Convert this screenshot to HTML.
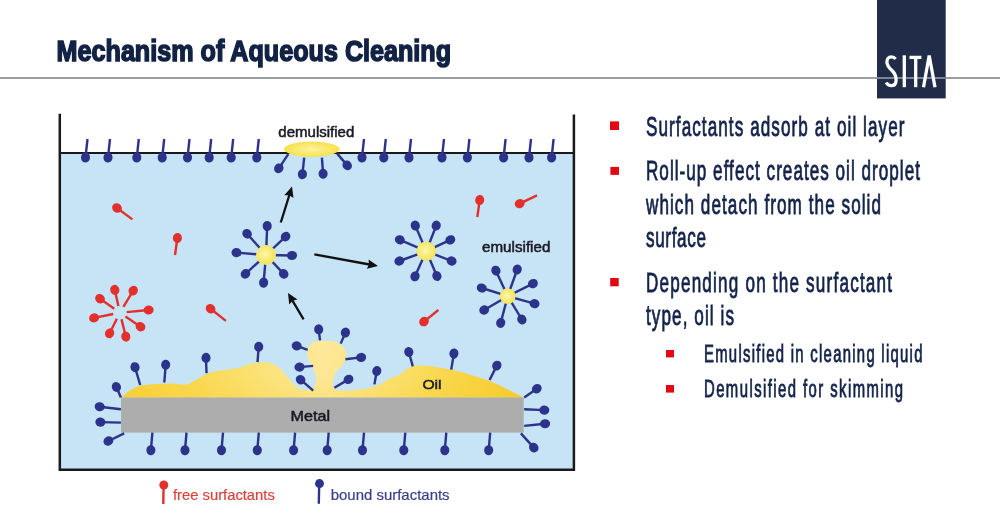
<!DOCTYPE html>
<html><head><meta charset="utf-8"><style>
html,body{margin:0;padding:0;background:#fff;width:1000px;height:509px;overflow:hidden}
svg{display:block;font-family:"Liberation Sans",sans-serif;will-change:transform}
</style></head><body>
<svg width="1000" height="509" viewBox="0 0 1000 509">
<rect x="0" y="0" width="1000" height="509" fill="#fff"/>
<line x1="0" y1="78" x2="1000" y2="78" stroke="#747c87" stroke-width="1.7"/>
<rect x="877" y="0" width="68.7" height="98.4" fill="#202c48"/>

<line x1="877" y1="78" x2="945.7" y2="78" stroke="#8794a8" stroke-width="1.5"/>
<g fill="none" stroke="#fff" stroke-width="3.3">
<path d="M895.6,59 C894.4,57.5 893,56.9 891.3,56.9 C888.6,56.9 886.9,59 886.9,62 C886.9,66 889.6,68.3 892.2,70.8 C895,73.5 896.1,76 896.1,80 C896.1,83.6 894.2,85.7 891.2,85.7 C889,85.7 887.3,84.5 886.2,82.5"/>
<line x1="904.3" y1="55.3" x2="904.3" y2="87.2"/>
<line x1="909.5" y1="57.4" x2="921.4" y2="57.4"/>
<line x1="915.7" y1="57.4" x2="915.7" y2="87.2"/>
<path d="M923.5,87.2 L929.2,55.5 L935,87.2" stroke-linejoin="miter"/>
</g>
<line x1="877" y1="78" x2="945.7" y2="78" stroke="rgb(190,198,212)" stroke-opacity="0.2" stroke-width="1.4"/>
<text x="56.6" y="60.5" font-size="30" font-weight="bold" fill="#112244" stroke="#112244" stroke-width="1.6" textLength="394.5" lengthAdjust="spacingAndGlyphs">Mechanism of Aqueous Cleaning</text>
<g fill="#13234a" stroke="#13234a" stroke-width="0.85" font-size="27.6">
<text transform="translate(646.0,136.0) scale(0.62,1)" x="0" y="0" textLength="416.9" lengthAdjust="spacing">Surfactants adsorb at oil layer</text>
<text transform="translate(646.0,180.3) scale(0.62,1)" x="0" y="0" textLength="441.9" lengthAdjust="spacing">Roll-up effect creates oil droplet</text>
<text transform="translate(646.0,213.8) scale(0.62,1)" x="0" y="0" textLength="379.0" lengthAdjust="spacing">which detach from the solid</text>
<text transform="translate(646.0,246.6) scale(0.62,1)" x="0" y="0" textLength="96.8" lengthAdjust="spacing">surface</text>
<text transform="translate(646.0,292.4) scale(0.62,1)" x="0" y="0" textLength="396.8" lengthAdjust="spacing">Depending on the surfactant</text>
<text transform="translate(646.0,324.7) scale(0.62,1)" x="0" y="0" textLength="141.9" lengthAdjust="spacing">type, oil is</text>
</g>
<g fill="#13234a" stroke="#13234a" stroke-width="0.85" font-size="24">
<text transform="translate(704.0,362.0) scale(0.62,1)" x="0" y="0" textLength="352.4" lengthAdjust="spacing">Emulsified in cleaning liquid</text>
<text transform="translate(704.0,397.0) scale(0.62,1)" x="0" y="0" textLength="321.0" lengthAdjust="spacing">Demulsified for skimming</text>
</g>
<g fill="#e30613">
<rect x="610" y="121.4" width="9" height="8.6"/>
<rect x="610.4" y="166.9" width="8.6" height="8"/>
<rect x="610.2" y="278" width="8.5" height="8.3"/>
<rect x="666" y="350" width="8" height="7.4"/>
<rect x="666" y="385" width="8" height="7.6"/>
</g>

<defs>
 <radialGradient id="core" cx="0.45" cy="0.45" r="0.6"><stop offset="0" stop-color="#fcf5b5"/><stop offset="0.4" stop-color="#f8ee82"/><stop offset="1" stop-color="#f0e155"/></radialGradient>
 <radialGradient id="demul" cx="0.5" cy="0.5" r="0.5"><stop offset="0" stop-color="#fdf3a0"/><stop offset="1" stop-color="#f7e14a"/></radialGradient>
 <linearGradient id="oilg" gradientUnits="userSpaceOnUse" x1="121" y1="0" x2="524" y2="0">
   <stop offset="0" stop-color="#f8d13a"/><stop offset="0.2" stop-color="#f9da58"/><stop offset="0.36" stop-color="#fbe47e"/><stop offset="0.5" stop-color="#fde99c"/>
   <stop offset="0.66" stop-color="#fbe275"/><stop offset="0.8" stop-color="#f9d850"/><stop offset="1" stop-color="#f7cd2c"/></linearGradient>
 <linearGradient id="oilv" gradientUnits="userSpaceOnUse" x1="0" y1="340" x2="0" y2="398">
   <stop offset="0" stop-color="#f6c820" stop-opacity="0"/><stop offset="0.6" stop-color="#f6c820" stop-opacity="0.05"/><stop offset="1" stop-color="#f6c820" stop-opacity="0.2"/></linearGradient>
</defs>
<rect x="60.5" y="153" width="513" height="316" fill="#c7e3f6"/>
<path d="M59.8,113.7 V469.8 H573.9 V114.6" fill="none" stroke="#1a1a1a" stroke-width="2.5"/>
<line x1="60" y1="153" x2="574" y2="153" stroke="#1a1a1a" stroke-width="2"/>
<path d="M121,397.8 C123,396.5 127,392 132,389.3 C136,387 139,386 141,385.6 C150,384 160,383.6 171,383.4 C178,383.4 183,385 186.4,384.6 C190,383.5 192,382 195,380.5 C199,378 203,375.5 206.8,374 C212,372 216,371.2 220.4,370.6 C228,369.5 232,369 237.4,368 C243,367 247,364.8 251,363.8 C256,362.6 260,362 264.7,362.1 C270,362.6 274,364 278,367 C282,370 285,374 290,380 C294,385 298,389 303,390 C307,390.6 311,390 313.5,388 C316,385 316.5,380 315.5,374 C314,369 309,363 307.5,356 C306.5,350 309,344 314,342 C319,340 327,340 333,341.2 C339,342.5 345,347 346.3,353 C347.5,360 342,366 337.5,370.5 C333.5,375 332.5,381 332.5,385 C333,388 335,390 340,390.5 C348,391 356,390 364.2,389.1 C370,388 375,386.5 380,384.4 C384,382.5 386,380 389.6,378.4 C393,377 396,376.5 399.2,375.2 C402,373.5 404,370.5 407.2,368.8 C411,366.5 414,365.6 418.4,365.6 C424,365.6 428,365.8 432.8,366.4 C440,367.3 445,368.5 450.4,369.6 C457,371 463,372.6 469.6,374.4 C476,376.3 482,378.3 488.8,380.8 C495,383.2 502,386.5 508,389.6 C514,392.6 519,395 523.7,397.8 Z" fill="url(#oilg)"/><path d="M121,397.8 C123,396.5 127,392 132,389.3 C136,387 139,386 141,385.6 C150,384 160,383.6 171,383.4 C178,383.4 183,385 186.4,384.6 C190,383.5 192,382 195,380.5 C199,378 203,375.5 206.8,374 C212,372 216,371.2 220.4,370.6 C228,369.5 232,369 237.4,368 C243,367 247,364.8 251,363.8 C256,362.6 260,362 264.7,362.1 C270,362.6 274,364 278,367 C282,370 285,374 290,380 C294,385 298,389 303,390 C307,390.6 311,390 313.5,388 C316,385 316.5,380 315.5,374 C314,369 309,363 307.5,356 C306.5,350 309,344 314,342 C319,340 327,340 333,341.2 C339,342.5 345,347 346.3,353 C347.5,360 342,366 337.5,370.5 C333.5,375 332.5,381 332.5,385 C333,388 335,390 340,390.5 C348,391 356,390 364.2,389.1 C370,388 375,386.5 380,384.4 C384,382.5 386,380 389.6,378.4 C393,377 396,376.5 399.2,375.2 C402,373.5 404,370.5 407.2,368.8 C411,366.5 414,365.6 418.4,365.6 C424,365.6 428,365.8 432.8,366.4 C440,367.3 445,368.5 450.4,369.6 C457,371 463,372.6 469.6,374.4 C476,376.3 482,378.3 488.8,380.8 C495,383.2 502,386.5 508,389.6 C514,392.6 519,395 523.7,397.8 Z" fill="url(#oilv)"/>
<rect x="121" y="397.5" width="402.7" height="35.1" fill="#adadad"/>
<line x1="116.4" y1="387.0" x2="120.9" y2="397.5" stroke="#2b348a" stroke-width="2.4" stroke-linecap="butt"/><ellipse cx="116.4" cy="387.0" rx="5.05" ry="4.55" transform="rotate(66.8 116.4 387.0)" fill="#2b348a"/><line x1="99.7" y1="406.7" x2="120.9" y2="409.2" stroke="#2b348a" stroke-width="2.4" stroke-linecap="butt"/><ellipse cx="99.7" cy="406.7" rx="5.05" ry="4.55" transform="rotate(6.7 99.7 406.7)" fill="#2b348a"/><line x1="100.4" y1="422.1" x2="120.9" y2="422.6" stroke="#2b348a" stroke-width="2.4" stroke-linecap="butt"/><ellipse cx="100.4" cy="422.1" rx="5.05" ry="4.55" transform="rotate(1.4 100.4 422.1)" fill="#2b348a"/><line x1="108.4" y1="441.0" x2="124.2" y2="433.4" stroke="#2b348a" stroke-width="2.4" stroke-linecap="butt"/><ellipse cx="108.4" cy="441.0" rx="5.05" ry="4.55" transform="rotate(-25.7 108.4 441.0)" fill="#2b348a"/><line x1="135.0" y1="367.2" x2="140.2" y2="385.0" stroke="#2b348a" stroke-width="2.4" stroke-linecap="butt"/><ellipse cx="135.0" cy="367.2" rx="5.05" ry="4.55" transform="rotate(73.7 135.0 367.2)" fill="#2b348a"/><line x1="165.7" y1="364.7" x2="164.3" y2="382.5" stroke="#2b348a" stroke-width="2.4" stroke-linecap="butt"/><ellipse cx="165.7" cy="364.7" rx="5.05" ry="4.55" transform="rotate(94.5 165.7 364.7)" fill="#2b348a"/><line x1="206.0" y1="357.9" x2="206.5" y2="373.2" stroke="#2b348a" stroke-width="2.4" stroke-linecap="butt"/><ellipse cx="206.0" cy="357.9" rx="5.05" ry="4.55" transform="rotate(88.1 206.0 357.9)" fill="#2b348a"/><line x1="258.7" y1="346.8" x2="257.5" y2="362.1" stroke="#2b348a" stroke-width="2.4" stroke-linecap="butt"/><ellipse cx="258.7" cy="346.8" rx="5.05" ry="4.55" transform="rotate(94.5 258.7 346.8)" fill="#2b348a"/><line x1="318.7" y1="329.4" x2="320.0" y2="340.4" stroke="#2b348a" stroke-width="2.4" stroke-linecap="butt"/><ellipse cx="318.7" cy="329.4" rx="5.05" ry="4.55" transform="rotate(83.3 318.7 329.4)" fill="#2b348a"/><line x1="345.4" y1="332.6" x2="340.7" y2="343.6" stroke="#2b348a" stroke-width="2.4" stroke-linecap="butt"/><ellipse cx="345.4" cy="332.6" rx="5.05" ry="4.55" transform="rotate(113.1 345.4 332.6)" fill="#2b348a"/><line x1="296.7" y1="345.9" x2="307.7" y2="349.8" stroke="#2b348a" stroke-width="2.4" stroke-linecap="butt"/><ellipse cx="296.7" cy="345.9" rx="5.05" ry="4.55" transform="rotate(19.5 296.7 345.9)" fill="#2b348a"/><line x1="361.1" y1="357.4" x2="345.4" y2="359.3" stroke="#2b348a" stroke-width="2.4" stroke-linecap="butt"/><ellipse cx="361.1" cy="357.4" rx="5.05" ry="4.55" transform="rotate(173.1 361.1 357.4)" fill="#2b348a"/><line x1="299.5" y1="367.1" x2="313.2" y2="365.9" stroke="#2b348a" stroke-width="2.4" stroke-linecap="butt"/><ellipse cx="299.5" cy="367.1" rx="5.05" ry="4.55" transform="rotate(-5.0 299.5 367.1)" fill="#2b348a"/><line x1="300.6" y1="379.7" x2="313.2" y2="390.7" stroke="#2b348a" stroke-width="2.4" stroke-linecap="butt"/><ellipse cx="300.6" cy="379.7" rx="5.05" ry="4.55" transform="rotate(41.1 300.6 379.7)" fill="#2b348a"/><line x1="348.5" y1="379.4" x2="334.4" y2="387.8" stroke="#2b348a" stroke-width="2.4" stroke-linecap="butt"/><ellipse cx="348.5" cy="379.4" rx="5.05" ry="4.55" transform="rotate(149.2 348.5 379.4)" fill="#2b348a"/><line x1="376.8" y1="371.0" x2="374.4" y2="384.4" stroke="#2b348a" stroke-width="2.4" stroke-linecap="butt"/><ellipse cx="376.8" cy="371.0" rx="5.05" ry="4.55" transform="rotate(100.2 376.8 371.0)" fill="#2b348a"/><line x1="408.8" y1="352.0" x2="412.8" y2="366.4" stroke="#2b348a" stroke-width="2.4" stroke-linecap="butt"/><ellipse cx="408.8" cy="352.0" rx="5.05" ry="4.55" transform="rotate(74.5 408.8 352.0)" fill="#2b348a"/><line x1="453.9" y1="353.6" x2="451.2" y2="369.6" stroke="#2b348a" stroke-width="2.4" stroke-linecap="butt"/><ellipse cx="453.9" cy="353.6" rx="5.05" ry="4.55" transform="rotate(99.6 453.9 353.6)" fill="#2b348a"/><line x1="496.8" y1="365.6" x2="489.6" y2="380.0" stroke="#2b348a" stroke-width="2.4" stroke-linecap="butt"/><ellipse cx="496.8" cy="365.6" rx="5.05" ry="4.55" transform="rotate(116.6 496.8 365.6)" fill="#2b348a"/><line x1="536.8" y1="388.7" x2="524.2" y2="397.5" stroke="#2b348a" stroke-width="2.4" stroke-linecap="butt"/><ellipse cx="536.8" cy="388.7" rx="5.05" ry="4.55" transform="rotate(145.1 536.8 388.7)" fill="#2b348a"/><line x1="544.3" y1="410.1" x2="524.2" y2="409.2" stroke="#2b348a" stroke-width="2.4" stroke-linecap="butt"/><ellipse cx="544.3" cy="410.1" rx="5.05" ry="4.55" transform="rotate(-177.4 544.3 410.1)" fill="#2b348a"/><line x1="545.1" y1="423.7" x2="524.2" y2="425.9" stroke="#2b348a" stroke-width="2.4" stroke-linecap="butt"/><ellipse cx="545.1" cy="423.7" rx="5.05" ry="4.55" transform="rotate(174.0 545.1 423.7)" fill="#2b348a"/><line x1="533.8" y1="447.6" x2="520.9" y2="433.4" stroke="#2b348a" stroke-width="2.4" stroke-linecap="butt"/><ellipse cx="533.8" cy="447.6" rx="5.05" ry="4.55" transform="rotate(-132.3 533.8 447.6)" fill="#2b348a"/><line x1="150.9" y1="450.2" x2="152.4" y2="432.6" stroke="#2b348a" stroke-width="2.4" stroke-linecap="butt"/><ellipse cx="150.9" cy="450.2" rx="5.05" ry="4.55" transform="rotate(-85.1 150.9 450.2)" fill="#2b348a"/><line x1="185.0" y1="450.2" x2="186.5" y2="432.6" stroke="#2b348a" stroke-width="2.4" stroke-linecap="butt"/><ellipse cx="185.0" cy="450.2" rx="5.05" ry="4.55" transform="rotate(-85.1 185.0 450.2)" fill="#2b348a"/><line x1="221.5" y1="450.2" x2="223.0" y2="432.6" stroke="#2b348a" stroke-width="2.4" stroke-linecap="butt"/><ellipse cx="221.5" cy="450.2" rx="5.05" ry="4.55" transform="rotate(-85.1 221.5 450.2)" fill="#2b348a"/><line x1="257.3" y1="450.2" x2="258.8" y2="432.6" stroke="#2b348a" stroke-width="2.4" stroke-linecap="butt"/><ellipse cx="257.3" cy="450.2" rx="5.05" ry="4.55" transform="rotate(-85.1 257.3 450.2)" fill="#2b348a"/><line x1="293.6" y1="450.2" x2="295.1" y2="432.6" stroke="#2b348a" stroke-width="2.4" stroke-linecap="butt"/><ellipse cx="293.6" cy="450.2" rx="5.05" ry="4.55" transform="rotate(-85.1 293.6 450.2)" fill="#2b348a"/><line x1="327.2" y1="450.2" x2="328.7" y2="432.6" stroke="#2b348a" stroke-width="2.4" stroke-linecap="butt"/><ellipse cx="327.2" cy="450.2" rx="5.05" ry="4.55" transform="rotate(-85.1 327.2 450.2)" fill="#2b348a"/><line x1="362.5" y1="450.2" x2="364.0" y2="432.6" stroke="#2b348a" stroke-width="2.4" stroke-linecap="butt"/><ellipse cx="362.5" cy="450.2" rx="5.05" ry="4.55" transform="rotate(-85.1 362.5 450.2)" fill="#2b348a"/><line x1="403.8" y1="450.2" x2="405.3" y2="432.6" stroke="#2b348a" stroke-width="2.4" stroke-linecap="butt"/><ellipse cx="403.8" cy="450.2" rx="5.05" ry="4.55" transform="rotate(-85.1 403.8 450.2)" fill="#2b348a"/><line x1="444.8" y1="450.2" x2="446.3" y2="432.6" stroke="#2b348a" stroke-width="2.4" stroke-linecap="butt"/><ellipse cx="444.8" cy="450.2" rx="5.05" ry="4.55" transform="rotate(-85.1 444.8 450.2)" fill="#2b348a"/><line x1="488.7" y1="450.2" x2="490.2" y2="432.6" stroke="#2b348a" stroke-width="2.4" stroke-linecap="butt"/><ellipse cx="488.7" cy="450.2" rx="5.05" ry="4.55" transform="rotate(-85.1 488.7 450.2)" fill="#2b348a"/>
<ellipse cx="311.7" cy="149.2" rx="27.8" ry="7.6" fill="url(#demul)"/>
<line x1="85.5" y1="157.5" x2="87.5" y2="139.0" stroke="#2b348a" stroke-width="2.4" stroke-linecap="butt"/><ellipse cx="85.5" cy="157.5" rx="5.05" ry="4.55" transform="rotate(-83.8 85.5 157.5)" fill="#2b348a"/><line x1="108.0" y1="157.5" x2="110.0" y2="139.0" stroke="#2b348a" stroke-width="2.4" stroke-linecap="butt"/><ellipse cx="108.0" cy="157.5" rx="5.05" ry="4.55" transform="rotate(-83.8 108.0 157.5)" fill="#2b348a"/><line x1="136.8" y1="157.5" x2="138.8" y2="139.0" stroke="#2b348a" stroke-width="2.4" stroke-linecap="butt"/><ellipse cx="136.8" cy="157.5" rx="5.05" ry="4.55" transform="rotate(-83.8 136.8 157.5)" fill="#2b348a"/><line x1="162.2" y1="157.5" x2="164.2" y2="139.0" stroke="#2b348a" stroke-width="2.4" stroke-linecap="butt"/><ellipse cx="162.2" cy="157.5" rx="5.05" ry="4.55" transform="rotate(-83.8 162.2 157.5)" fill="#2b348a"/><line x1="187.5" y1="157.5" x2="189.5" y2="139.0" stroke="#2b348a" stroke-width="2.4" stroke-linecap="butt"/><ellipse cx="187.5" cy="157.5" rx="5.05" ry="4.55" transform="rotate(-83.8 187.5 157.5)" fill="#2b348a"/><line x1="209.2" y1="157.5" x2="211.2" y2="139.0" stroke="#2b348a" stroke-width="2.4" stroke-linecap="butt"/><ellipse cx="209.2" cy="157.5" rx="5.05" ry="4.55" transform="rotate(-83.8 209.2 157.5)" fill="#2b348a"/><line x1="231.2" y1="157.5" x2="233.2" y2="139.0" stroke="#2b348a" stroke-width="2.4" stroke-linecap="butt"/><ellipse cx="231.2" cy="157.5" rx="5.05" ry="4.55" transform="rotate(-83.8 231.2 157.5)" fill="#2b348a"/><line x1="256.8" y1="157.5" x2="258.8" y2="139.0" stroke="#2b348a" stroke-width="2.4" stroke-linecap="butt"/><ellipse cx="256.8" cy="157.5" rx="5.05" ry="4.55" transform="rotate(-83.8 256.8 157.5)" fill="#2b348a"/><line x1="362.0" y1="157.5" x2="364.0" y2="139.0" stroke="#2b348a" stroke-width="2.4" stroke-linecap="butt"/><ellipse cx="362.0" cy="157.5" rx="5.05" ry="4.55" transform="rotate(-83.8 362.0 157.5)" fill="#2b348a"/><line x1="383.8" y1="157.5" x2="385.8" y2="139.0" stroke="#2b348a" stroke-width="2.4" stroke-linecap="butt"/><ellipse cx="383.8" cy="157.5" rx="5.05" ry="4.55" transform="rotate(-83.8 383.8 157.5)" fill="#2b348a"/><line x1="409.0" y1="157.5" x2="411.0" y2="139.0" stroke="#2b348a" stroke-width="2.4" stroke-linecap="butt"/><ellipse cx="409.0" cy="157.5" rx="5.05" ry="4.55" transform="rotate(-83.8 409.0 157.5)" fill="#2b348a"/><line x1="442.0" y1="157.5" x2="444.0" y2="139.0" stroke="#2b348a" stroke-width="2.4" stroke-linecap="butt"/><ellipse cx="442.0" cy="157.5" rx="5.05" ry="4.55" transform="rotate(-83.8 442.0 157.5)" fill="#2b348a"/><line x1="467.4" y1="157.5" x2="469.4" y2="139.0" stroke="#2b348a" stroke-width="2.4" stroke-linecap="butt"/><ellipse cx="467.4" cy="157.5" rx="5.05" ry="4.55" transform="rotate(-83.8 467.4 157.5)" fill="#2b348a"/><line x1="503.6" y1="157.5" x2="505.6" y2="139.0" stroke="#2b348a" stroke-width="2.4" stroke-linecap="butt"/><ellipse cx="503.6" cy="157.5" rx="5.05" ry="4.55" transform="rotate(-83.8 503.6 157.5)" fill="#2b348a"/><line x1="529.0" y1="157.5" x2="531.0" y2="139.0" stroke="#2b348a" stroke-width="2.4" stroke-linecap="butt"/><ellipse cx="529.0" cy="157.5" rx="5.05" ry="4.55" transform="rotate(-83.8 529.0 157.5)" fill="#2b348a"/><line x1="551.6" y1="157.5" x2="553.6" y2="139.0" stroke="#2b348a" stroke-width="2.4" stroke-linecap="butt"/><ellipse cx="551.6" cy="157.5" rx="5.05" ry="4.55" transform="rotate(-83.8 551.6 157.5)" fill="#2b348a"/><line x1="278.8" y1="168.3" x2="288.3" y2="154.2" stroke="#2b348a" stroke-width="2.4" stroke-linecap="butt"/><ellipse cx="278.8" cy="168.3" rx="5.05" ry="4.55" transform="rotate(-56.0 278.8 168.3)" fill="#2b348a"/><line x1="302.4" y1="174.2" x2="304.2" y2="157.7" stroke="#2b348a" stroke-width="2.4" stroke-linecap="butt"/><ellipse cx="302.4" cy="174.2" rx="5.05" ry="4.55" transform="rotate(-83.8 302.4 174.2)" fill="#2b348a"/><line x1="323.1" y1="173.7" x2="321.9" y2="157.7" stroke="#2b348a" stroke-width="2.4" stroke-linecap="butt"/><ellipse cx="323.1" cy="173.7" rx="5.05" ry="4.55" transform="rotate(-94.3 323.1 173.7)" fill="#2b348a"/><line x1="347.2" y1="165.4" x2="337.2" y2="153.6" stroke="#2b348a" stroke-width="2.4" stroke-linecap="butt"/><ellipse cx="347.2" cy="165.4" rx="5.05" ry="4.55" transform="rotate(-130.3 347.2 165.4)" fill="#2b348a"/><line x1="117.0" y1="208.0" x2="132.4" y2="219.4" stroke="#e3302c" stroke-width="2.4" stroke-linecap="butt"/><ellipse cx="117.0" cy="208.0" rx="5.05" ry="4.55" transform="rotate(36.5 117.0 208.0)" fill="#e3302c"/><line x1="177.4" y1="238.0" x2="175.0" y2="255.0" stroke="#e3302c" stroke-width="2.4" stroke-linecap="butt"/><ellipse cx="177.4" cy="238.0" rx="5.05" ry="4.55" transform="rotate(98.0 177.4 238.0)" fill="#e3302c"/><line x1="479.7" y1="200.1" x2="477.3" y2="217.0" stroke="#e3302c" stroke-width="2.4" stroke-linecap="butt"/><ellipse cx="479.7" cy="200.1" rx="5.05" ry="4.55" transform="rotate(98.1 479.7 200.1)" fill="#e3302c"/><line x1="424.0" y1="321.6" x2="438.4" y2="310.0" stroke="#e3302c" stroke-width="2.4" stroke-linecap="butt"/><ellipse cx="424.0" cy="321.6" rx="5.05" ry="4.55" transform="rotate(-38.9 424.0 321.6)" fill="#e3302c"/><line x1="519.7" y1="203.6" x2="537.0" y2="195.4" stroke="#e3302c" stroke-width="2.4" stroke-linecap="butt"/><ellipse cx="519.7" cy="203.6" rx="5.05" ry="4.55" transform="rotate(-25.4 519.7 203.6)" fill="#e3302c"/><line x1="210.6" y1="308.7" x2="225.9" y2="320.9" stroke="#e3302c" stroke-width="2.4" stroke-linecap="butt"/><ellipse cx="210.6" cy="308.7" rx="5.05" ry="4.55" transform="rotate(38.6 210.6 308.7)" fill="#e3302c"/><line x1="114.8" y1="289.9" x2="118.4" y2="306.1" stroke="#e3302c" stroke-width="2.4" stroke-linecap="butt"/><ellipse cx="114.8" cy="289.9" rx="5.05" ry="4.55" transform="rotate(77.4 114.8 289.9)" fill="#e3302c"/><line x1="133.2" y1="290.6" x2="123.4" y2="306.9" stroke="#e3302c" stroke-width="2.4" stroke-linecap="butt"/><ellipse cx="133.2" cy="290.6" rx="5.05" ry="4.55" transform="rotate(121.0 133.2 290.6)" fill="#e3302c"/><line x1="100.0" y1="298.7" x2="114.3" y2="308.8" stroke="#e3302c" stroke-width="2.4" stroke-linecap="butt"/><ellipse cx="100.0" cy="298.7" rx="5.05" ry="4.55" transform="rotate(35.1 100.0 298.7)" fill="#e3302c"/><line x1="148.6" y1="310.0" x2="126.7" y2="312.1" stroke="#e3302c" stroke-width="2.4" stroke-linecap="butt"/><ellipse cx="148.6" cy="310.0" rx="5.05" ry="4.55" transform="rotate(174.6 148.6 310.0)" fill="#e3302c"/><line x1="94.1" y1="317.9" x2="113.2" y2="314.0" stroke="#e3302c" stroke-width="2.4" stroke-linecap="butt"/><ellipse cx="94.1" cy="317.9" rx="5.05" ry="4.55" transform="rotate(-11.4 94.1 317.9)" fill="#e3302c"/><line x1="140.5" y1="326.7" x2="125.5" y2="316.5" stroke="#e3302c" stroke-width="2.4" stroke-linecap="butt"/><ellipse cx="140.5" cy="326.7" rx="5.05" ry="4.55" transform="rotate(-145.8 140.5 326.7)" fill="#e3302c"/><line x1="109.6" y1="333.3" x2="116.9" y2="318.8" stroke="#e3302c" stroke-width="2.4" stroke-linecap="butt"/><ellipse cx="109.6" cy="333.3" rx="5.05" ry="4.55" transform="rotate(-63.4 109.6 333.3)" fill="#e3302c"/><line x1="125.8" y1="336.6" x2="121.5" y2="319.3" stroke="#e3302c" stroke-width="2.4" stroke-linecap="butt"/><ellipse cx="125.8" cy="336.6" rx="5.05" ry="4.55" transform="rotate(-103.9 125.8 336.6)" fill="#e3302c"/>
<line x1="267.2" y1="226.0" x2="266.0" y2="255.0" stroke="#2b348a" stroke-width="2.4" stroke-linecap="butt"/><ellipse cx="267.2" cy="226.0" rx="5.05" ry="4.55" transform="rotate(92.4 267.2 226.0)" fill="#2b348a"/><line x1="285.6" y1="236.6" x2="266.0" y2="255.0" stroke="#2b348a" stroke-width="2.4" stroke-linecap="butt"/><ellipse cx="285.6" cy="236.6" rx="5.05" ry="4.55" transform="rotate(136.8 285.6 236.6)" fill="#2b348a"/><line x1="292.0" y1="255.5" x2="266.0" y2="255.0" stroke="#2b348a" stroke-width="2.4" stroke-linecap="butt"/><ellipse cx="292.0" cy="255.5" rx="5.05" ry="4.55" transform="rotate(-178.9 292.0 255.5)" fill="#2b348a"/><line x1="283.7" y1="273.9" x2="266.0" y2="255.0" stroke="#2b348a" stroke-width="2.4" stroke-linecap="butt"/><ellipse cx="283.7" cy="273.9" rx="5.05" ry="4.55" transform="rotate(-133.1 283.7 273.9)" fill="#2b348a"/><line x1="263.6" y1="282.6" x2="266.0" y2="255.0" stroke="#2b348a" stroke-width="2.4" stroke-linecap="butt"/><ellipse cx="263.6" cy="282.6" rx="5.05" ry="4.55" transform="rotate(-85.0 263.6 282.6)" fill="#2b348a"/><line x1="245.5" y1="273.9" x2="266.0" y2="255.0" stroke="#2b348a" stroke-width="2.4" stroke-linecap="butt"/><ellipse cx="245.5" cy="273.9" rx="5.05" ry="4.55" transform="rotate(-42.7 245.5 273.9)" fill="#2b348a"/><line x1="236.5" y1="252.6" x2="266.0" y2="255.0" stroke="#2b348a" stroke-width="2.4" stroke-linecap="butt"/><ellipse cx="236.5" cy="252.6" rx="5.05" ry="4.55" transform="rotate(4.7 236.5 252.6)" fill="#2b348a"/><line x1="247.1" y1="233.8" x2="266.0" y2="255.0" stroke="#2b348a" stroke-width="2.4" stroke-linecap="butt"/><ellipse cx="247.1" cy="233.8" rx="5.05" ry="4.55" transform="rotate(48.3 247.1 233.8)" fill="#2b348a"/><circle cx="266" cy="255" r="10" fill="url(#core)"/><line x1="415.3" y1="225.6" x2="426.3" y2="251.2" stroke="#2b348a" stroke-width="2.4" stroke-linecap="butt"/><ellipse cx="415.3" cy="225.6" rx="5.05" ry="4.55" transform="rotate(66.7 415.3 225.6)" fill="#2b348a"/><line x1="436.2" y1="225.6" x2="426.3" y2="251.2" stroke="#2b348a" stroke-width="2.4" stroke-linecap="butt"/><ellipse cx="436.2" cy="225.6" rx="5.05" ry="4.55" transform="rotate(111.1 436.2 225.6)" fill="#2b348a"/><line x1="450.3" y1="239.8" x2="426.3" y2="251.2" stroke="#2b348a" stroke-width="2.4" stroke-linecap="butt"/><ellipse cx="450.3" cy="239.8" rx="5.05" ry="4.55" transform="rotate(154.6 450.3 239.8)" fill="#2b348a"/><line x1="451.6" y1="261.0" x2="426.3" y2="251.2" stroke="#2b348a" stroke-width="2.4" stroke-linecap="butt"/><ellipse cx="451.6" cy="261.0" rx="5.05" ry="4.55" transform="rotate(-158.8 451.6 261.0)" fill="#2b348a"/><line x1="436.9" y1="276.0" x2="426.3" y2="251.2" stroke="#2b348a" stroke-width="2.4" stroke-linecap="butt"/><ellipse cx="436.9" cy="276.0" rx="5.05" ry="4.55" transform="rotate(-113.1 436.9 276.0)" fill="#2b348a"/><line x1="415.0" y1="276.3" x2="426.3" y2="251.2" stroke="#2b348a" stroke-width="2.4" stroke-linecap="butt"/><ellipse cx="415.0" cy="276.3" rx="5.05" ry="4.55" transform="rotate(-65.8 415.0 276.3)" fill="#2b348a"/><line x1="399.4" y1="261.0" x2="426.3" y2="251.2" stroke="#2b348a" stroke-width="2.4" stroke-linecap="butt"/><ellipse cx="399.4" cy="261.0" rx="5.05" ry="4.55" transform="rotate(-20.0 399.4 261.0)" fill="#2b348a"/><line x1="399.8" y1="239.8" x2="426.3" y2="251.2" stroke="#2b348a" stroke-width="2.4" stroke-linecap="butt"/><ellipse cx="399.8" cy="239.8" rx="5.05" ry="4.55" transform="rotate(23.3 399.8 239.8)" fill="#2b348a"/><circle cx="426.3" cy="251.2" r="9.7" fill="url(#core)"/><line x1="495.9" y1="270.7" x2="507.7" y2="296.2" stroke="#2b348a" stroke-width="2.4" stroke-linecap="butt"/><ellipse cx="495.9" cy="270.7" rx="5.05" ry="4.55" transform="rotate(65.2 495.9 270.7)" fill="#2b348a"/><line x1="517.2" y1="269.5" x2="507.7" y2="296.2" stroke="#2b348a" stroke-width="2.4" stroke-linecap="butt"/><ellipse cx="517.2" cy="269.5" rx="5.05" ry="4.55" transform="rotate(109.6 517.2 269.5)" fill="#2b348a"/><line x1="532.9" y1="283.6" x2="507.7" y2="296.2" stroke="#2b348a" stroke-width="2.4" stroke-linecap="butt"/><ellipse cx="532.9" cy="283.6" rx="5.05" ry="4.55" transform="rotate(153.4 532.9 283.6)" fill="#2b348a"/><line x1="534.5" y1="303.7" x2="507.7" y2="296.2" stroke="#2b348a" stroke-width="2.4" stroke-linecap="butt"/><ellipse cx="534.5" cy="303.7" rx="5.05" ry="4.55" transform="rotate(-164.4 534.5 303.7)" fill="#2b348a"/><line x1="521.9" y1="319.5" x2="507.7" y2="296.2" stroke="#2b348a" stroke-width="2.4" stroke-linecap="butt"/><ellipse cx="521.9" cy="319.5" rx="5.05" ry="4.55" transform="rotate(-121.4 521.9 319.5)" fill="#2b348a"/><line x1="500.7" y1="322.9" x2="507.7" y2="296.2" stroke="#2b348a" stroke-width="2.4" stroke-linecap="butt"/><ellipse cx="500.7" cy="322.9" rx="5.05" ry="4.55" transform="rotate(-75.3 500.7 322.9)" fill="#2b348a"/><line x1="484.2" y1="310.0" x2="507.7" y2="296.2" stroke="#2b348a" stroke-width="2.4" stroke-linecap="butt"/><ellipse cx="484.2" cy="310.0" rx="5.05" ry="4.55" transform="rotate(-30.4 484.2 310.0)" fill="#2b348a"/><line x1="481.8" y1="288.0" x2="507.7" y2="296.2" stroke="#2b348a" stroke-width="2.4" stroke-linecap="butt"/><ellipse cx="481.8" cy="288.0" rx="5.05" ry="4.55" transform="rotate(17.6 481.8 288.0)" fill="#2b348a"/><circle cx="507.7" cy="296.2" r="7.9" fill="url(#core)"/>
<line x1="280.8" y1="222.5" x2="289.5" y2="194.7" stroke="#111" stroke-width="2.3"/><path d="M292.0,186.6 L293.5,198.1 L289.3,195.2 L284.3,195.2 Z" fill="#111"/><line x1="314.4" y1="254.4" x2="369.6" y2="264.5" stroke="#111" stroke-width="2.3"/><path d="M378.0,266.0 L366.8,268.8 L369.1,264.4 L368.5,259.4 Z" fill="#111"/><line x1="303.6" y1="319.4" x2="292.3" y2="300.3" stroke="#111" stroke-width="2.3"/><path d="M288.0,293.0 L297.5,299.6 L292.6,300.7 L289.2,304.5 Z" fill="#111"/>
<text x="278.3" y="136.5" font-size="14.3" fill="#1a1a24" stroke="#1a1a24" stroke-width="0.5" textLength="76" lengthAdjust="spacingAndGlyphs">demulsified</text>
<text x="482" y="251.5" font-size="14.3" fill="#1a1a24" stroke="#1a1a24" stroke-width="0.5" textLength="68.4" lengthAdjust="spacingAndGlyphs">emulsified</text>
<text x="290.6" y="421.3" font-size="14.3" fill="#1a1a24" stroke="#1a1a24" stroke-width="0.5" textLength="39.4" lengthAdjust="spacingAndGlyphs">Metal</text>
<text x="422.4" y="388.8" font-size="13.6" fill="#1a1a24" stroke="#1a1a24" stroke-width="0.5" textLength="19.2" lengthAdjust="spacingAndGlyphs">Oil</text>
<line x1="163.6" y1="485" x2="163.3" y2="504" stroke="#e3302c" stroke-width="2.4"/><circle cx="163.8" cy="485" r="4.5" fill="#e3302c"/>
<text x="173" y="499.5" font-size="14.3" fill="#d9443a" stroke="#d9443a" stroke-width="0.2" textLength="101.8" lengthAdjust="spacingAndGlyphs">free surfactants</text>
<line x1="319.2" y1="483.6" x2="318.8" y2="503.8" stroke="#2b348a" stroke-width="2.4"/><circle cx="319.5" cy="483.6" r="4.5" fill="#2b348a"/>
<text x="330.7" y="499.6" font-size="14.3" fill="#3a3f8c" stroke="#3a3f8c" stroke-width="0.2" textLength="118.9" lengthAdjust="spacingAndGlyphs">bound surfactants</text>

</svg>
</body></html>
